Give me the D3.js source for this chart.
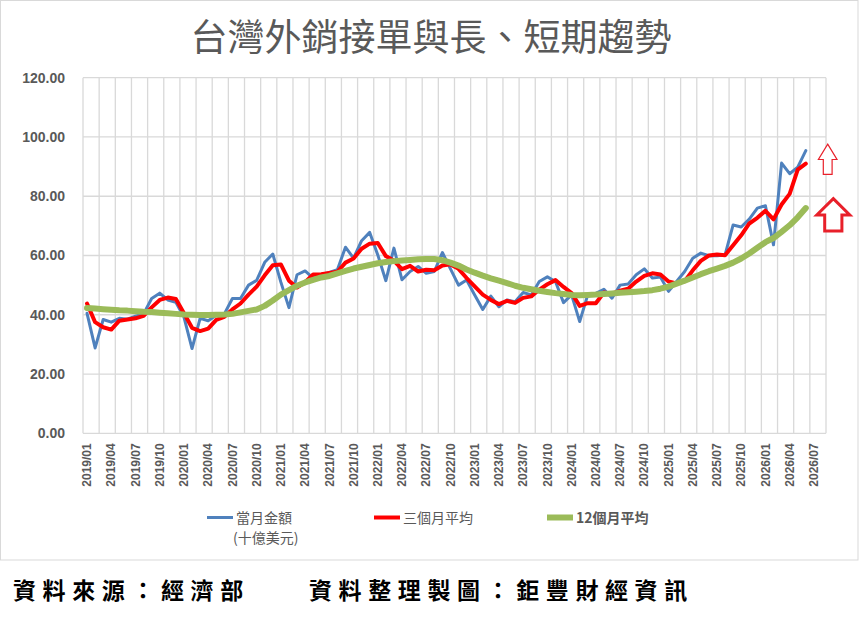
<!DOCTYPE html>
<html>
<head>
<meta charset="utf-8">
<script src="https://cdn.jsdelivr.net/npm/d3@7/dist/d3.min.js"></script>
<style>
body { margin: 0; background: #fff; }
svg text { font-family: "Liberation Sans", Arial, sans-serif; }
</style>
</head>
<body>
<div id="content"></div>
<script>
// categories on the x axis (one per month)
var months = [
  "2019/01","2019/02","2019/03","2019/04","2019/05","2019/06","2019/07","2019/08","2019/09","2019/10","2019/11","2019/12",
  "2020/01","2020/02","2020/03","2020/04","2020/05","2020/06","2020/07","2020/08","2020/09","2020/10","2020/11","2020/12",
  "2021/01","2021/02","2021/03","2021/04","2021/05","2021/06","2021/07","2021/08","2021/09","2021/10","2021/11","2021/12",
  "2022/01","2022/02","2022/03","2022/04","2022/05","2022/06","2022/07","2022/08","2022/09","2022/10","2022/11","2022/12",
  "2023/01","2023/02","2023/03","2023/04","2023/05","2023/06","2023/07","2023/08","2023/09","2023/10","2023/11","2023/12",
  "2024/01","2024/02","2024/03","2024/04","2024/05","2024/06","2024/07","2024/08","2024/09","2024/10","2024/11","2024/12",
  "2025/01","2025/02","2025/03","2025/04","2025/05","2025/06","2025/07","2025/08","2025/09","2025/10","2025/11","2025/12",
  "2026/01","2026/02","2026/03","2026/04","2026/05","2026/06","2026/07","2026/08"
];

var tickLabels = [
  "2019/01","2019/04","2019/07","2019/10","2020/01","2020/04","2020/07","2020/10",
  "2021/01","2021/04","2021/07","2021/10","2022/01","2022/04","2022/07","2022/10",
  "2023/01","2023/04","2023/07","2023/10","2024/01","2024/04","2024/07","2024/10",
  "2025/01","2025/04","2025/07","2025/10","2026/01","2026/04","2026/07"
];

var yTicks = [0, 20, 40, 60, 80, 100, 120];

// 當月金額 (十億美元), 2019/01 - 2026/06
var monthly = [
  40.5, 28.8, 38.4, 37.5, 38.8, 38.5, 39.5, 40.3, 45.5, 47.3, 45.0, 44.2,
  39.2, 28.6, 38.8, 38.0, 39.8, 40.3, 45.5, 45.5, 50.0, 51.6, 57.7, 60.5,
  51.0, 42.4, 53.5, 54.8, 52.4, 53.5, 54.3, 55.2, 62.8, 59.1, 65.0, 67.8,
  60.2, 51.5, 62.5, 51.8, 54.6, 56.3, 54.0, 54.6, 61.0, 55.5, 50.0, 51.7,
  46.7, 41.8, 46.3, 42.7, 45.0, 44.4, 47.5, 46.7, 51.2, 52.8, 51.2, 44.1,
  46.7, 37.7, 46.7, 47.2, 48.6, 45.6, 50.0, 50.4, 53.5, 55.5, 52.4, 52.7,
  47.9, 51.2, 54.6, 59.1, 60.8, 59.9, 59.9, 60.2, 70.3, 69.6, 72.3, 76.0,
  76.8, 63.6, 91.2, 87.6, 89.8, 95.4
];

// 三個月平均
var avg3 = [
  43.8, 37.5, 35.8, 35.0, 38.0, 38.4, 38.8, 39.6, 42.5, 45.0, 45.8, 45.3,
  40.5, 35.6, 34.5, 35.3, 38.3, 39.3, 41.8, 43.8, 46.8, 49.5, 53.3, 56.7,
  57.0, 51.5, 49.2, 51.0, 53.6, 53.7, 54.1, 54.5, 57.6, 59.0, 62.3, 64.0,
  64.2, 59.8, 58.2, 55.4, 56.5, 54.6, 55.2, 55.0, 56.6, 57.0, 55.5, 52.4,
  49.6, 46.8, 45.0, 43.6, 44.7, 44.0, 45.7, 46.2, 48.5, 50.3, 51.7, 49.4,
  47.3, 43.0, 43.9, 43.9, 47.5, 47.1, 48.1, 48.8, 51.2, 53.1, 54.0, 53.6,
  51.2, 50.6, 51.3, 55.0, 58.2, 60.0, 60.3, 60.1, 63.5, 66.8, 70.8, 72.7,
  75.1, 72.2, 77.2, 80.8, 89.0, 91.0
];

// 12個月平均
var avg12 = [
  42.3, 42.1, 41.9, 41.7, 41.5, 41.4, 41.2, 41.0, 40.9, 40.7, 40.5, 40.3,
  40.1, 40.0, 39.9, 39.9, 40.0, 40.1, 40.3, 40.8, 41.3, 41.8, 43.0, 44.8,
  46.8, 48.3, 49.8, 50.9, 51.8, 52.6, 53.1, 54.0, 54.8, 55.6, 56.2, 56.8,
  57.4, 57.8, 58.1, 58.3, 58.5, 58.7, 58.8, 58.8, 58.4, 57.6, 56.6, 55.3,
  54.2, 53.2, 52.3, 51.5, 50.7, 49.8, 49.1, 48.6, 48.1, 47.7, 47.3, 47.0,
  46.7, 46.6, 46.7, 46.8, 47.0, 47.2, 47.4, 47.6, 47.8, 48.0, 48.3, 48.8,
  49.5, 50.5, 51.5, 52.6, 53.7, 54.7, 55.6, 56.5, 57.6, 59.0, 60.7, 62.6,
  64.5, 65.9, 68.0, 70.2, 72.9, 76.0
];

var seriesNames = ["當月金額", "三個月平均", "12個月平均"];
var seriesColors = ["#4f81bd", "#ff0000", "#9bbb59"];
var seriesWidths = [3, 4, 6];

var width = 859;
var height = 618;
var margin = { left: 83, right: 33, top: 77.7, bottom: 184.7 };

var svg = d3.select("#content").append("svg")
    .attr("width", width)
    .attr("height", height)
    .attr("id", "viz");

// chart frame
svg.append("rect")
    .attr("x", 0.5).attr("y", 0.5)
    .attr("width", width - 1.5).attr("height", 559.5)
    .attr("fill", "#fff")
    .attr("stroke", "#d9d9d9");

var x = d3.scaleBand()
    .domain(months)
    .range([margin.left, width - margin.right])
    .padding(0);

var y = d3.scaleLinear()
    .domain([0, 120])
    .range([height - margin.bottom, margin.top]);

function cx(m) { return x(m) + x.bandwidth() / 2; }

// horizontal gridlines
svg.append("g").selectAll("line")
    .data(yTicks)
    .enter().append("line")
    .attr("x1", margin.left)
    .attr("x2", width - margin.right)
    .attr("y1", function(d) { return y(d); })
    .attr("y2", function(d) { return y(d); })
    .attr("stroke", "#d9d9d9")
    .attr("stroke-width", 1.3);

// vertical gridlines every two months
var vLines = months.filter(function(m, i) { return i % 2 == 0; }).map(function(m) { return x(m); });
vLines.push(width - margin.right);
svg.append("g").selectAll("line")
    .data(vLines)
    .enter().append("line")
    .attr("x1", function(d) { return d; })
    .attr("x2", function(d) { return d; })
    .attr("y1", y(120))
    .attr("y2", y(0))
    .attr("stroke", "#d9d9d9")
    .attr("stroke-width", 1.3);

// y axis labels
var yAxis = svg.append("g")
    .attr("transform", "translate(" + margin.left + ",0)")
    .call(d3.axisLeft(y).tickValues(yTicks).tickFormat(d3.format(".2f")).tickSize(0).tickPadding(18));
yAxis.select(".domain").remove();
yAxis.selectAll("text")
    .attr("fill", "#595959")
    .style("font-size", "14px")
    .style("font-weight", "bold")
    .style("font-family", "'Liberation Sans', Arial, sans-serif");

// x axis labels
var xAxis = svg.append("g")
    .attr("transform", "translate(0," + y(0) + ")")
    .call(d3.axisBottom(x).tickValues(tickLabels).tickSize(0));
xAxis.select(".domain").remove();
xAxis.selectAll("text")
    .attr("fill", "#595959")
    .style("font-size", "12px")
    .style("font-weight", "bold")
    .style("font-family", "'Liberation Sans', Arial, sans-serif")
    .attr("text-anchor", "end")
    .attr("transform", "rotate(-90)")
    .attr("x", -10)
    .attr("y", 0)
    .attr("dy", "0.35em");

// lines
var allSeries = [monthly, avg3, avg12];
var line = d3.line()
    .x(function(d, i) { return cx(months[i]); })
    .y(function(d) { return y(d); });

allSeries.forEach(function(s, k) {
    svg.append("path")
        .datum(s)
        .attr("d", line)
        .attr("fill", "none")
        .attr("stroke", seriesColors[k])
        .attr("stroke-width", seriesWidths[k])
        .attr("stroke-linejoin", "round")
        .attr("stroke-linecap", "round");
});

// title
svg.append("text")
    .attr("x", 431)
    .attr("y", 51)
    .attr("text-anchor", "middle")
    .attr("fill", "#595959")
    .style("font-family", "'Noto Sans CJK TC', sans-serif")
    .style("font-size", "37px")
    .text("台灣外銷接單與長、短期趨勢");

// legend
var legendX = [207, 374, 547];
var legend = svg.append("g").attr("class", "legend");
seriesNames.forEach(function(name, k) {
    legend.append("line")
        .attr("x1", legendX[k])
        .attr("x2", legendX[k] + 26)
        .attr("y1", 517.5)
        .attr("y2", 517.5)
        .attr("stroke", seriesColors[k])
        .attr("stroke-width", seriesWidths[k]);
    legend.append("text")
        .attr("x", legendX[k] + 29)
        .attr("y", 522.5)
        .attr("fill", "#595959")
        .style("font-family", "'Noto Sans CJK TC', sans-serif")
        .style("font-size", "14px")
        .style("font-weight", k == 2 ? "bold" : "normal")
        .text(name);
});
legend.append("text")
    .attr("x", legendX[0] + 26)
    .attr("y", 542.5)
    .attr("fill", "#595959")
    .style("font-family", "'Noto Sans CJK TC', sans-serif")
    .style("font-size", "14px")
    .text("(十億美元)");

// up arrows on the right side
function arrow(cxp, top, headBase, bottom, headHalf, shaftHalf) {
    var p = d3.path();
    p.moveTo(cxp, top);
    p.lineTo(cxp + headHalf, headBase);
    p.lineTo(cxp + shaftHalf, headBase);
    p.lineTo(cxp + shaftHalf, bottom);
    p.lineTo(cxp - shaftHalf, bottom);
    p.lineTo(cxp - shaftHalf, headBase);
    p.lineTo(cxp - headHalf, headBase);
    p.closePath();
    return p.toString();
}
var arrowX = width - margin.right;
svg.append("path")
    .attr("d", arrow(arrowX + 1.7, y(97.6), y(92.4), y(87.4), 9.3, 4.4))
    .attr("fill", "#fff")
    .attr("stroke", "#e8202a")
    .attr("stroke-width", 1.2);
svg.append("path")
    .attr("d", arrow(arrowX + 7.3, y(79.2), y(73.7), y(68.3), 16.5, 8.6))
    .attr("fill", "#fff")
    .attr("stroke", "#e8202a")
    .attr("stroke-width", 3);

// source line
svg.append("text")
    .attr("x", 13)
    .attr("y", 599)
    .attr("fill", "#000")
    .style("font-family", "'Noto Sans CJK TC', serif")
    .style("font-size", "23px")
    .style("font-weight", "bold")
    .style("letter-spacing", "6.6px")
    .text("資料來源：經濟部　　資料整理製圖：鉅豐財經資訊");
</script>
</body>
</html>
